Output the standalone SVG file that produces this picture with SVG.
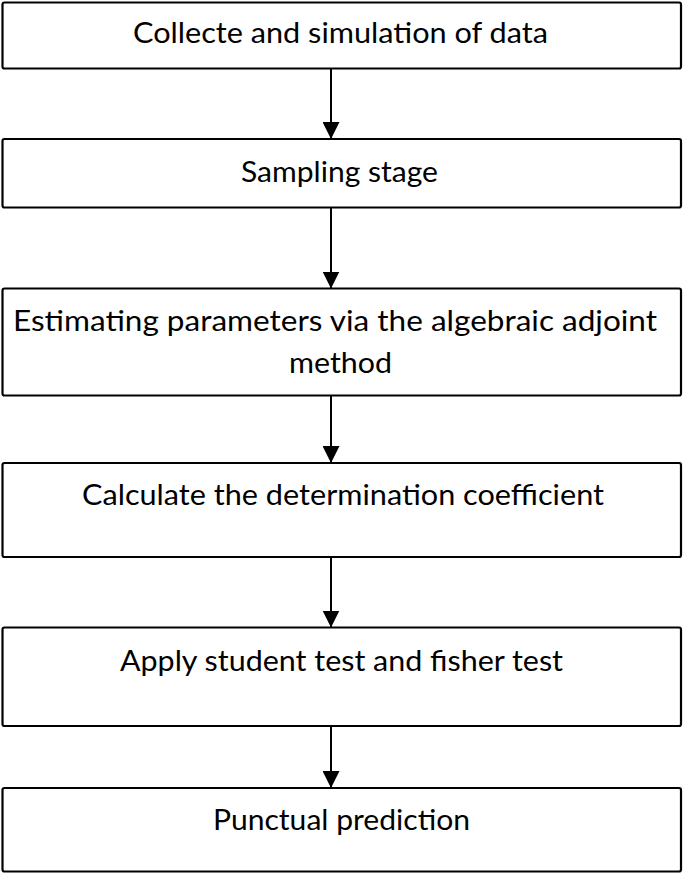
<svg xmlns="http://www.w3.org/2000/svg" width="685" height="874" viewBox="0 0 685 874">
<style>
.box{fill:#fff;stroke:#000;stroke-width:2.2}
.lbl{font-family:Lato,"Open Sans","Liberation Sans",sans-serif;font-size:29px;fill:#000;text-anchor:middle}
.con{stroke:#000;stroke-width:2;fill:none}
</style>
<defs>
<marker id="ah" viewBox="0 0 17 17" refX="17" refY="8.5" markerWidth="17" markerHeight="17" markerUnits="userSpaceOnUse" orient="auto">
<path d="M0,0 L17,8.5 L0,17 Z" fill="#000"/>
</marker>
</defs>
<rect width="685" height="874" fill="#fff"/>
<g id="n1"><rect class="box" x="2.5" y="2.5" width="678.5" height="66" rx="2"/><text class="lbl" x="340.5" y="43" textLength="415" lengthAdjust="spacingAndGlyphs">Collecte and simulation of data</text></g>
<g id="n2"><rect class="box" x="2.5" y="139" width="678.5" height="68.5" rx="2"/><text class="lbl" x="339.5" y="182" textLength="197" lengthAdjust="spacingAndGlyphs">Sampling stage</text></g>
<g id="n3"><rect class="box" x="2.5" y="288.5" width="678.5" height="107" rx="2"/><text class="lbl" x="335" y="331" textLength="644" lengthAdjust="spacingAndGlyphs">Estimating parameters via the algebraic adjoint</text><text class="lbl" x="340.5" y="373" textLength="103" lengthAdjust="spacingAndGlyphs">method</text></g>
<g id="n4"><rect class="box" x="2.5" y="463" width="678.5" height="94" rx="2"/><text class="lbl" x="343" y="505" textLength="522" lengthAdjust="spacingAndGlyphs">Calculate the determination coefficient</text></g>
<g id="n5"><rect class="box" x="2.5" y="627.5" width="678.5" height="98.5" rx="2"/><text class="lbl" x="341.5" y="671" textLength="443" lengthAdjust="spacingAndGlyphs">Apply student test and fisher test</text></g>
<g id="n6"><rect class="box" x="2.5" y="788" width="678.5" height="83.5" rx="2"/><text class="lbl" x="341.5" y="830" textLength="257" lengthAdjust="spacingAndGlyphs">Punctual prediction</text></g>
<g id="connectors">
<line class="con" x1="331" y1="68.5" x2="331" y2="139" marker-end="url(#ah)"/>
<line class="con" x1="331" y1="207.5" x2="331" y2="288.5" marker-end="url(#ah)"/>
<line class="con" x1="331" y1="395.5" x2="331" y2="463" marker-end="url(#ah)"/>
<line class="con" x1="331" y1="557" x2="331" y2="627.5" marker-end="url(#ah)"/>
<line class="con" x1="331" y1="726" x2="331" y2="788" marker-end="url(#ah)"/>
</g>
</svg>
